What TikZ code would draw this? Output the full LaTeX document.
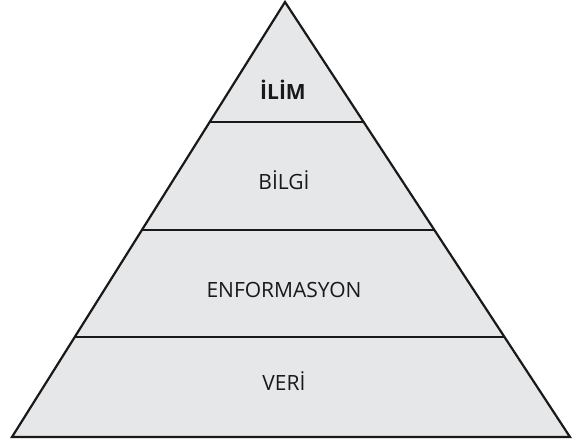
\documentclass[tikz,border=0pt]{standalone}
\usepackage{fontspec}
\setmainfont{Open Sans}
\usetikzlibrary{calc}
\definecolor{tierfill}{HTML}{E6E7E9}
\begin{document}
\begin{tikzpicture}[
  x=1pt, y=-1pt,
  outline/.style={draw=black!90, line width=2.2pt, line join=miter},
  divider/.style={draw=black!90, line width=2.2pt},
  tier/.style={font=\fontsize{21}{24}\selectfont, text=black!90, inner sep=0pt},
  toptier/.style={tier, font=\fontsize{21}{24}\selectfont\bfseries}
]
\useasboundingbox (0,0) rectangle (576,443);
% pyramid corners
\coordinate (apex) at (285,2);
\coordinate (bl) at (12,437);
\coordinate (br) at (570,437);
\fill[tierfill] (apex) -- (bl) -- (br) -- cycle;
\draw[outline] (apex) -- (bl) -- (br) -- cycle;
% level dividers
\foreach \t/\n in {0.2759/a, 0.5241/b, 0.7701/c} {
  \coordinate (l\n) at ($(apex)!\t!(bl)$);
  \coordinate (r\n) at ($(apex)!\t!(br)$);
  \draw[divider] (l\n) -- (r\n);
}
% labels
\node[toptier] (ilim) at (283,90) {İLİM};
\node[tier] (bilgi) at (284,180) {BİLGİ};
\node[tier] (enformasyon) at (284,290) {ENFORMASYON};
\node[tier] (veri) at (284,381) {VERİ};
\end{tikzpicture}
\end{document}
